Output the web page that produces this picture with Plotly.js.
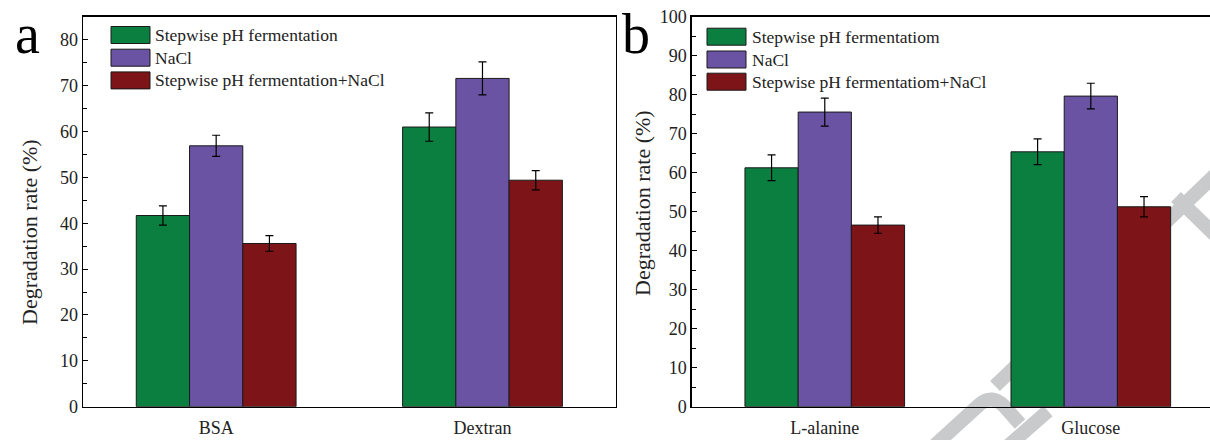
<!DOCTYPE html>
<html><head><meta charset="utf-8">
<script src="https://cdn.plot.ly/plotly-3.0.1.min.js"></script>
<style>html,body{margin:0;padding:0;background:#fff}</style>
</head><body><div id="chart" style="width:1210px;height:440px"></div>
<script>
const categoriesA = ['BSA', 'Dextran'];
const categoriesB = ['L-alanine', 'Glucose'];
const namesA = ['Stepwise pH fermentation', 'NaCl', 'Stepwise pH fermentation+NaCl'];
const namesB = ['Stepwise pH fermentatiom', 'NaCl', 'Stepwise pH fermentatiom+NaCl'];
const stepwiseA = [41.7, 61.0];
const stepwiseErrA = [2.1, 3.1];
const naclA = [56.9, 71.6];
const naclErrA = [2.3, 3.6];
const comboA = [35.6, 49.4];
const comboErrA = [1.7, 2.1];
const stepwiseB = [61.3, 65.4];
const stepwiseErrB = [3.3, 3.3];
const naclB = [75.6, 79.7];
const naclErrB = [3.6, 3.3];
const comboB = [46.6, 51.3];
const comboErrB = [2.1, 2.6];
const panelLabels = ['a', 'b'];
const yTitle = 'Degradation rate (%)';

const colors = ['#0a7f40', '#6b53a3', '#7c1418'];
const FONT = 'Liberation Serif, Times New Roman, serif';
const W = 1210, H = 440;

function bar(x, y, err, name, i, xa, ya) {
  return {
    type: 'bar', x: x, y: y, name: name, xaxis: xa, yaxis: ya, showlegend: false,
    marker: {color: colors[i], line: {color: '#1a1a1a', width: 1}},
    error_y: {type: 'data', array: err, visible: true, color: '#000', thickness: 1.2, width: 4}
  };
}

const data = [
  bar(categoriesA, stepwiseA, stepwiseErrA, namesA[0], 0, 'x', 'y'),
  bar(categoriesA, naclA, naclErrA, namesA[1], 1, 'x', 'y'),
  bar(categoriesA, comboA, comboErrA, namesA[2], 2, 'x', 'y'),
  bar(categoriesB, stepwiseB, stepwiseErrB, namesB[0], 0, 'x2', 'y2'),
  bar(categoriesB, naclB, naclErrB, namesB[1], 1, 'x2', 'y2'),
  bar(categoriesB, comboB, comboErrB, namesB[2], 2, 'x2', 'y2')
];

const yBase = {
  domain: [0.0757, 0.9614], dtick: 10, ticks: 'inside', ticklen: 5, tickwidth: 1, tickcolor: '#000',
  minor: {dtick: 5, ticks: 'inside', ticklen: 4, tickwidth: 1, tickcolor: '#000'},
  showline: true, linecolor: '#000', linewidth: 1.5, showgrid: false, zeroline: false,
  tickfont: {family: FONT, size: 18, color: '#222'}
};
const xBase = {
  type: 'category', showline: true, linecolor: '#000', linewidth: 1.5, ticks: '', showgrid: false,
  mirror: true, tickfont: {family: FONT, size: 18, color: '#222'}, ticklabelstandoff: 4
};

function px(x, y) { return (x / W).toFixed(4) + ',' + (1 - y / H).toFixed(4); }

// watermark strokes (pixel coords), drawn beneath the bars
const watermark = [
  'M' + px(995, 386) + 'L' + px(1216, 174),
  'M' + px(1176, 197) + 'L' + px(1216, 236),
  'M' + px(934, 446) + 'L' + px(980, 404) + 'Q' + px(992, 394) + ' ' + px(1004, 406) + 'L' + px(1020, 424),
  'M' + px(1008, 446) + 'L' + px(1048, 411)
].map(function (p) {
  return {type: 'path', xref: 'paper', yref: 'paper', path: p, layer: 'below',
          line: {color: '#c9cacb', width: 14}};
});

// legend boxes: wide rectangular swatches with labels (drawn as layout items)
const legendSpecs = [
  {names: namesA, swatchX: 111, textX: 153, rows: [35, 57.7, 80.4]},
  {names: namesB, swatchX: 707, textX: 750, rows: [36.7, 59.5, 81.7]}
];
const legendShapes = [], legendTexts = [];
legendSpecs.forEach(function (spec) {
  spec.names.forEach(function (name, i) {
    const cy = spec.rows[i];
    legendShapes.push({type: 'rect', xref: 'paper', yref: 'paper', layer: 'above',
      x0: spec.swatchX / W, x1: (spec.swatchX + 39) / W, y0: 1 - (cy + 8.5) / H, y1: 1 - (cy - 8.5) / H,
      fillcolor: colors[i], line: {color: '#1a1a1a', width: 1}});
    legendTexts.push({text: name, xref: 'paper', yref: 'paper', x: spec.textX / W, y: 1 - cy / H,
      xanchor: 'left', yanchor: 'middle', showarrow: false,
      font: {family: FONT, size: 17.5, color: '#222'}});
  });
});

const layout = {
  width: W, height: H, margin: {l: 0, r: 0, t: 0, b: 0},
  paper_bgcolor: '#fff', plot_bgcolor: 'rgba(0,0,0,0)',
  barmode: 'group', bargap: 0.4, bargroupgap: 0, showlegend: false,
  xaxis: Object.assign({}, xBase, {domain: [0.0686, 0.5088], range: [-0.5, 1.5], anchor: 'y'}),
  yaxis: Object.assign({}, yBase, {range: [0, 85], anchor: 'x', mirror: true}),
  xaxis2: Object.assign({}, xBase, {domain: [0.5717, 1], range: [-0.5, 1.448], anchor: 'y2'}),
  yaxis2: Object.assign({}, yBase, {range: [0, 100], anchor: 'x2', mirror: false}),
  shapes: watermark.concat(legendShapes),
  annotations: [
    {text: panelLabels[0], xref: 'paper', yref: 'paper', x: 27 / W, y: 1 - 34 / H, showarrow: false,
     font: {family: FONT, size: 56, color: '#000'}, xanchor: 'center', yanchor: 'middle'},
    {text: panelLabels[1], xref: 'paper', yref: 'paper', x: 636 / W, y: 1 - 34 / H, showarrow: false,
     font: {family: FONT, size: 56, color: '#000'}, xanchor: 'center', yanchor: 'middle'},
    {text: yTitle, xref: 'paper', yref: 'paper', x: 30 / W, y: 1 - 232 / H, showarrow: false, textangle: -90,
     font: {family: FONT, size: 22, color: '#222'}, xanchor: 'center', yanchor: 'middle'},
    {text: yTitle, xref: 'paper', yref: 'paper', x: 642 / W, y: 1 - 203 / H, showarrow: false, textangle: -90,
     font: {family: FONT, size: 22, color: '#222'}, xanchor: 'center', yanchor: 'middle'}
  ].concat(legendTexts)
};

Plotly.newPlot('chart', data, layout, {staticPlot: true, displayModeBar: false});
</script>
</body></html>
